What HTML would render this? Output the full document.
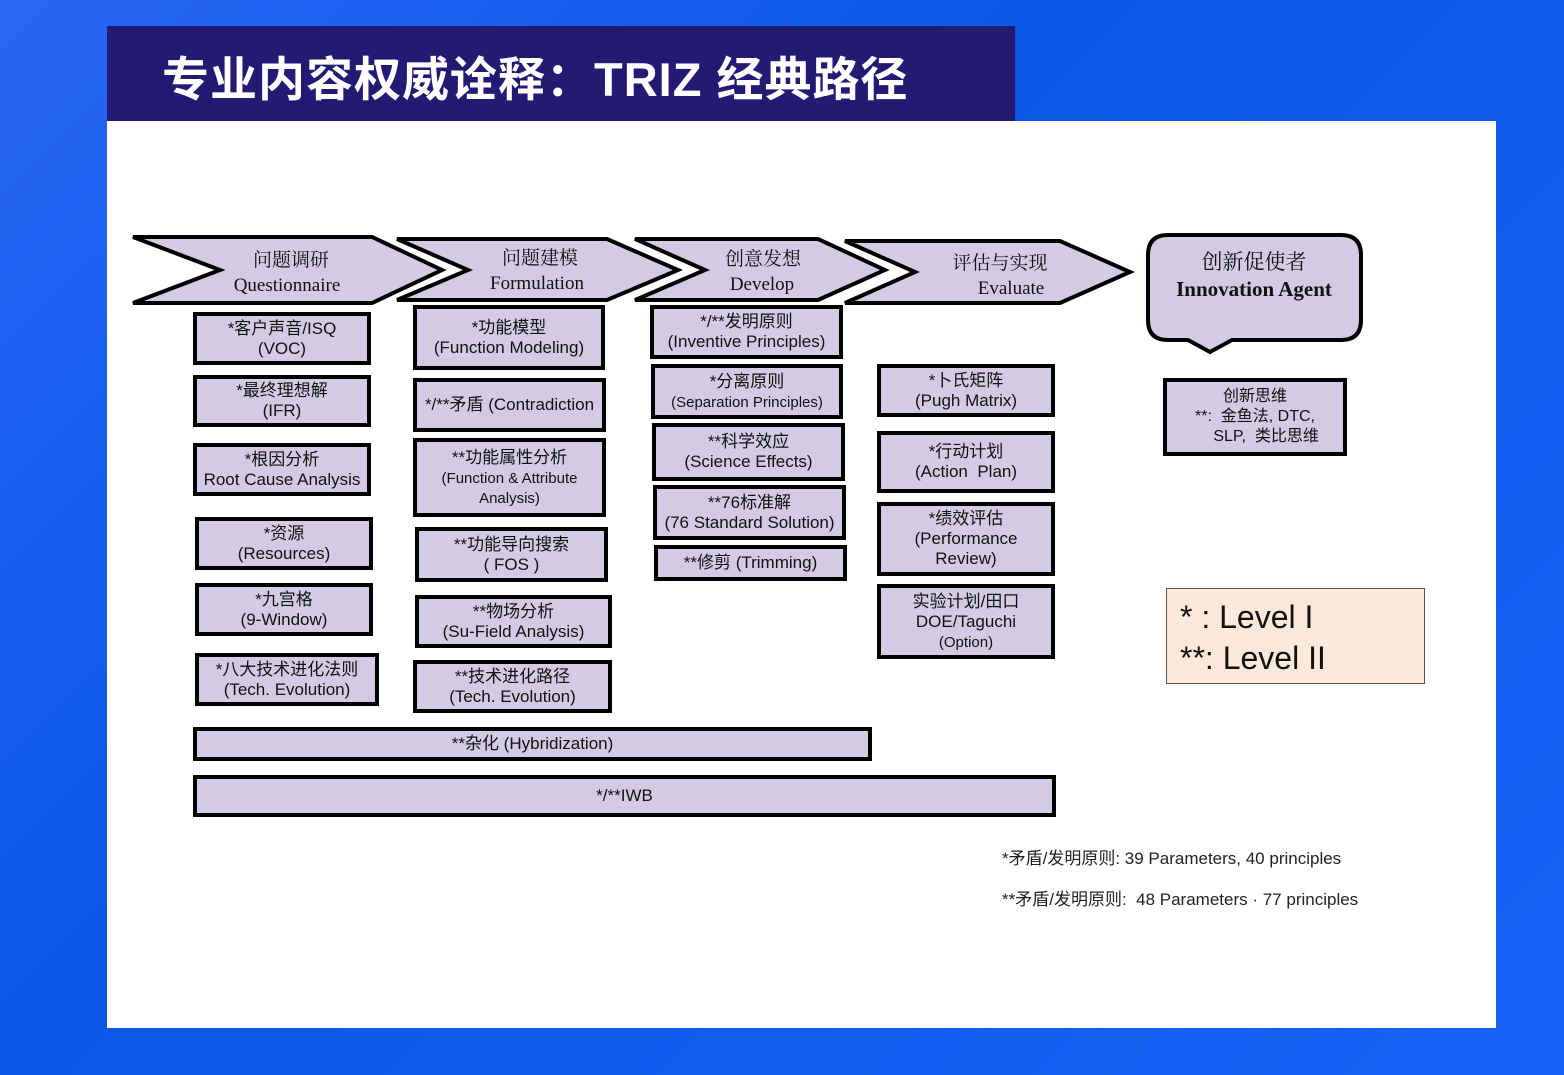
<!DOCTYPE html>
<html><head><meta charset="utf-8"><style>
*{margin:0;padding:0;box-sizing:border-box}
body{width:1564px;height:1075px;overflow:hidden;background:linear-gradient(135deg,#2a66f5 0%,#0a58e8 40%,#1763f5 100%);position:relative;font-family:"Liberation Sans Narrow","Liberation Sans","Noto Sans CJK SC",sans-serif}
#title{position:absolute;left:107px;top:26px;width:908px;height:96px;background:#221a73;color:#fff;font:bold 47px "Liberation Sans","Noto Sans CJK SC",sans-serif;padding-left:55px;line-height:108px;letter-spacing:1px}
#panel{position:absolute;left:107px;top:121px;width:1389px;height:907px;background:#fff}
.b{position:absolute;background:#d2cbe3;border:4px solid #000;display:flex;align-items:center;justify-content:center;text-align:center;font-size:17px;line-height:20px;color:#111}
.s{font-size:15px;line-height:17px}
svg{position:absolute;left:0;top:0}
.t{font-family:"Liberation Serif","Noto Serif CJK SC",serif;font-size:19px;fill:#111;text-anchor:middle}
.fn{position:absolute;left:1002px;font-size:17px;color:#222}
</style></head><body>
<div id="title">专业内容权威诠释：TRIZ 经典路径</div>
<div id="panel"></div>
<svg width="1564" height="1075">
<g fill="#d2cbe3" stroke="#000" stroke-width="4" stroke-linejoin="miter">
<polygon points="133,237 372,237 442,270 372,303 133,303 220,270"/>
<polygon points="397,239 607,239 678,270 607,300 397,300 468,270"/>
<polygon points="635,239 818,239 885,270 818,300 635,300 705,270"/>
<polygon points="845,241 1060,241 1130,272 1060,303 845,303 915,272"/>
<path d="M1168,235 H1341 Q1361,235 1361,255 V320 Q1361,340 1341,340 H1232 L1210,352 L1188,340 H1168 Q1148,340 1148,320 V255 Q1148,235 1168,235 Z"/>
</g>
<text class="t" x="291" y="266">问题调研</text><text class="t" x="287" y="291">Questionnaire</text>
<text class="t" x="540" y="264">问题建模</text><text class="t" x="537" y="289">Formulation</text>
<text class="t" x="763" y="265">创意发想</text><text class="t" x="762" y="290">Develop</text>
<text class="t" x="1000" y="269">评估与实现</text><text class="t" x="1011" y="294">Evaluate</text>
<text class="t" x="1254" y="269" style="font-size:21px">创新促使者</text><text class="t" x="1254" y="296" style="font-size:21px;font-weight:bold">Innovation Agent</text>
</svg>
<div class="b" style="left:193px;top:312px;width:178px;height:53px">*客户声音/ISQ<br>(VOC)</div>
<div class="b" style="left:193px;top:375px;width:178px;height:52px">*最终理想解<br>(IFR)</div>
<div class="b" style="left:193px;top:443px;width:178px;height:53px">*根因分析<br>Root Cause Analysis</div>
<div class="b" style="left:195px;top:517px;width:178px;height:53px">*资源<br>(Resources)</div>
<div class="b" style="left:195px;top:583px;width:178px;height:53px">*九宫格<br>(9-Window)</div>
<div class="b" style="left:195px;top:653px;width:184px;height:53px">*八大技术进化法则<br>(Tech. Evolution)</div>
<div class="b" style="left:413px;top:305px;width:192px;height:65px">*功能模型<br>(Function Modeling)</div>
<div class="b" style="left:413px;top:378px;width:193px;height:54px;white-space:nowrap">*/**矛盾 (Contradiction</div>
<div class="b" style="left:413px;top:438px;width:193px;height:79px"><div>**功能属性分析<br><span class="s">(Function &amp; Attribute<br>Analysis)</span></div></div>
<div class="b" style="left:415px;top:527px;width:193px;height:55px">**功能导向搜索<br>( FOS )</div>
<div class="b" style="left:415px;top:595px;width:197px;height:53px">**物场分析<br>(Su-Field Analysis)</div>
<div class="b" style="left:413px;top:660px;width:199px;height:53px">**技术进化路径<br>(Tech. Evolution)</div>
<div class="b" style="left:650px;top:305px;width:193px;height:54px">*/**发明原则<br>(Inventive Principles)</div>
<div class="b" style="left:651px;top:364px;width:192px;height:55px"><div>*分离原则<br><span class="s">(Separation Principles)</span></div></div>
<div class="b" style="left:652px;top:423px;width:193px;height:58px">**科学效应<br>(Science Effects)</div>
<div class="b" style="left:653px;top:485px;width:193px;height:55px">**76标准解<br>(76 Standard Solution)</div>
<div class="b" style="left:654px;top:545px;width:193px;height:36px">**修剪 (Trimming)</div>
<div class="b" style="left:877px;top:364px;width:178px;height:53px">*卜氏矩阵<br>(Pugh Matrix)</div>
<div class="b" style="left:877px;top:431px;width:178px;height:62px">*行动计划<br>(Action&nbsp; Plan)</div>
<div class="b" style="left:877px;top:502px;width:178px;height:74px">*绩效评估<br>(Performance<br>Review)</div>
<div class="b" style="left:877px;top:584px;width:178px;height:75px"><div>实验计划/田口<br>DOE/Taguchi<br><span class="s">(Option)</span></div></div>
<div class="b" style="left:1163px;top:378px;width:184px;height:78px;font-size:16px">创新思维<br>**:&nbsp; 金鱼法, DTC,<br>&nbsp;&nbsp;&nbsp;&nbsp;&nbsp;SLP,&nbsp; 类比思维</div>
<div class="b" style="left:193px;top:727px;width:679px;height:34px">**杂化 (Hybridization)</div>
<div class="b" style="left:193px;top:775px;width:863px;height:42px">*/**IWB</div>
<div style="position:absolute;left:1166px;top:588px;width:259px;height:96px;background:#fde9d9;border:1px solid #555;font:32px/41px 'Liberation Sans Narrow','Liberation Sans',sans-serif;padding:8px 0 0 13px;color:#111">* : Level I<br>**: Level II</div>
<div class="fn" style="top:844px">*矛盾/发明原则: 39 Parameters, 40 principles</div>
<div class="fn" style="top:885px">**矛盾/发明原则:&nbsp; 48 Parameters · 77 principles</div>
</body></html>
